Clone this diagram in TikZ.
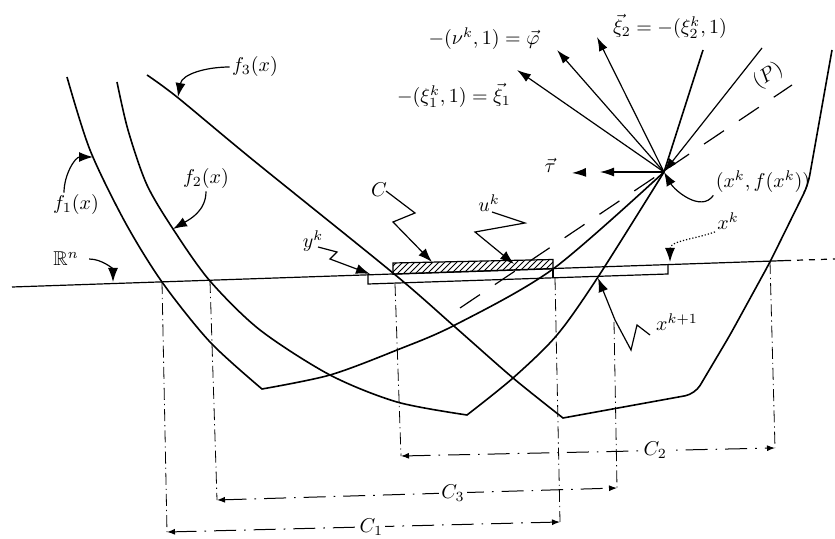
\documentclass[tikz,border=0pt]{standalone}
\usepackage{amsmath,amssymb}
\usetikzlibrary{arrows.meta,patterns,positioning}

\begin{document}
\begin{tikzpicture}[x=0.5pt,y=-0.5pt,
    fcurve/.style={line width=0.8pt},
    leader/.style={line width=0.6pt,-{Latex[length=7pt,width=5pt]}},
    grad/.style={line width=0.6pt,-{Latex[length=7pt,width=4.5pt]}},
    proj/.style={line width=0.4pt,dash pattern=on 6pt off 2pt on 0.6pt off 2pt},
    dimline/.style={line width=0.5pt,dash pattern=on 11pt off 4pt on 0.8pt off 4pt,
      {Latex[length=4pt,width=3pt]}-{Latex[length=4pt,width=3pt]}},
    lab/.style={inner sep=1pt}]
		\useasboundingbox (0,0) rectangle (835,539);

		% the space R^n
		\draw[line width=0.6pt] (12,287) -- (785,260.6);
		\draw[line width=0.6pt,dashed] (785,260.6) -- (835,259);

		% the set C and the strip below it
		\draw[line width=0.6pt,pattern=north east lines] (393,274.2) -- (393,263) -- (553,259.5) -- (553,268.8) -- cycle;
		\draw[line width=0.6pt] (553,268.8) -- (553,278.5);
		\draw[line width=0.6pt] (368,275) -- (368,284) -- (668,274) -- (668,265);

		% f_1
		\draw[fcurve] plot[smooth] coordinates {(67,77) (90,150) (125,222) (162,282) (210,342) (262,389)}
		  -- plot[smooth] coordinates {(262,389) (330,375) (397,350) (455,325) (553,269) (664,172)};
		% f_2
		\draw[fcurve] plot[smooth] coordinates {(117,82) (128,130) (147,185) (175,232) (210,281) (260,330) (330,375) (397,402) (467,415)}
		  -- plot[smooth] coordinates {(467,415) (513,378) (557,335) (598,277) (664,172)} -- (703,50);
		% f_3
		\draw[fcurve] plot[smooth] coordinates {(147,75) (177,97) (253,160) (393,273) (455,327) (513,378) (563,418)}
		  [rounded corners=5pt] -- (695,394) -- (730,335) -- (770,262) -- (808,185) -- (832,50);

		% points
		\coordinate (star) at (664,172);
		\coordinate (fup) at (762,48);
		\coordinate (xione) at (517,70);
		\coordinate (phi) at (557,50);
		\coordinate (xitwo) at (597,37);
		\coordinate (tauone) at (600,172);
		\coordinate (tautwoa) at (584,172.5);
		\coordinate (tautwob) at (572,173);
		\coordinate (pa) at (460,308);
		\coordinate (pb) at (792,85);

		% subgradients at (x^k,f(x^k))
		\draw[grad] (fup) -- (star);
		\draw[grad] (star) -- (xione);
		\draw[grad] (star) -- (phi);
		\draw[grad] (star) -- (xitwo);
		\draw[grad] (star) -- (tauone);
		\draw[grad] (tautwoa) -- (tautwob);
		\draw[line width=0.6pt,dash pattern=on 12pt off 9pt] (pa) -- (pb);

		\draw (454,95) node[lab] (lxione) {$-(\xi_1^k,1)=\vec{\xi}_1$};
		\draw (484,39) node[lab] (lphi) {$-(\nu^k,1)=\vec{\varphi}$};
		\draw (670,26) node[lab] (lxitwo) {$\vec{\xi}_2=-(\xi_2^k,1)$};
		\draw (550,165) node[lab] (ltau) {$\vec{\tau}$};
		\draw (768,76) node[lab,rotate=34] (lp) {$(P)$};

		% labels with their leaders
		\draw (76,205) node[lab] (fone) {$f_1(x)$};
		\draw (206,179) node[lab] (ftwo) {$f_2(x)$};
		\draw (255,67) node[lab] (fthree) {$f_3(x)$};
		\draw (66,259) node[lab] (rn) {$\mathbb{R}^n$};
		\draw (313,241) node[lab] (yk) {$y^k$};
		\draw (379,190) node[lab] (cset) {$C$};
		\draw (489,203) node[lab] (uk) {$u^k$};
		\draw (728,221) node[lab] (xk) {$x^k$};
		\draw (763,182) node[lab] (xkf) {$(x^k,f(x^k))$};
		\draw (677,322) node[lab] (xknext) {$x^{k+1}$};

		\coordinate (fonept) at (93,157);
		\coordinate (ftwopt) at (173,229);
		\coordinate (fthreept) at (178,97);
		\coordinate (rnpt) at (113,282);
		\coordinate (ykpt) at (370,274);
		\coordinate (cpt) at (432,262);
		\coordinate (ukpt) at (514,264);
		\coordinate (xkpt) at (670,262);
		\coordinate (xknextpt) at (598,278);

		\draw[leader] ([xshift=-6pt]fone.north) to[out=90,in=180] (fonept);
		\draw[leader] (ftwo.south) to[out=-90,in=30] (ftwopt);
		\draw[leader] (fthree.west) to[out=180,in=80] (fthreept);
		\draw[leader] ([xshift=4pt]rn.east) to[out=0,in=90] (rnpt);
		\draw[leader] (318,247) -- (337,252) -- (330,259) -- (ykpt);
		\draw[leader] (386,191) -- (415,213) -- (393,222) -- (cpt);
		\draw[leader] (492,212) -- (525,223) -- (475,232) -- (ukpt);
		\draw[leader,densely dotted] (xk.south west) to[out=200,in=90] (xkpt);
		\draw[leader] (xkf.south west) to[out=235,in=-60] (star);
		\draw[leader] (650,335) -- (637,325) -- (631,350) -- (615,320) -- (xknextpt);

		% projections onto R^n and the sets C_1, C_2, C_3
		\coordinate (c1a) at (167,532);
		\coordinate (c1b) at (560,522);
		\coordinate (c3a) at (217,500);
		\coordinate (c3b) at (617,488);
		\coordinate (c2a) at (401,456);
		\coordinate (c2b) at (775,448);
		\draw[proj] (162,282) -- (c1a);
		\draw[proj] (555,278) -- (c1b);
		\draw[proj] (210,281) -- (c3a);
		\draw[proj] (614,322) -- (c3b);
		\draw[proj] (395,284) -- (c2a);
		\draw[proj] (770,262) -- (c2b);
		\draw[dimline] (c1a) -- node[lab,fill=white,pos=0.52] (cone) {$C_1$} (c1b);
		\draw[dimline] (c3a) -- node[lab,fill=white,pos=0.59] (cthree) {$C_3$} (c3b);
		\draw[dimline] (c2a) -- node[lab,fill=white,pos=0.68] (ctwo) {$C_2$} (c2b);
	\end{tikzpicture}
\end{document}
